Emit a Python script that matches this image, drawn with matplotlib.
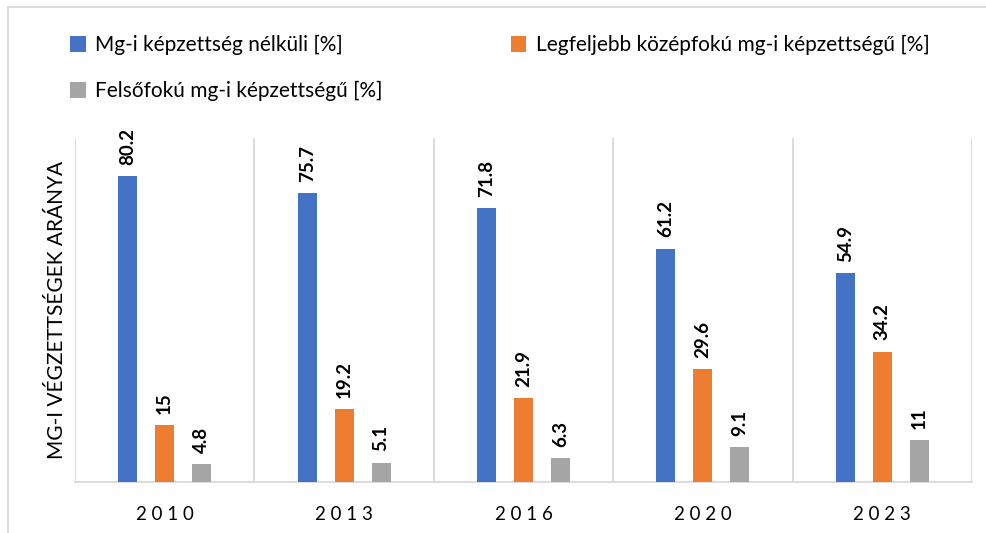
import numpy as np
import matplotlib.pyplot as plt
from matplotlib.lines import Line2D

plt.rcParams['font.family'] = ['Lato', 'DejaVu Sans']

years = ["2010", "2013", "2016", "2020", "2023"]
no_skill = [80.2, 75.7, 71.8, 61.2, 54.9]
mid_skill = [15, 19.2, 21.9, 29.6, 34.2]
high_skill = [4.8, 5.1, 6.3, 9.1, 11]
labels = ["Mg-i képzettség nélküli [%]",
          "Legfeljebb középfokú mg-i képzettségű [%]",
          "Felsőfokú mg-i képzettségű [%]"]
colors = ["#4472C4", "#ED7D31", "#A5A5A5"]

fig = plt.figure(figsize=(9.87, 5.33), dpi=100)
ax = fig.add_axes([75 / 987, 1 - 482 / 533, 897 / 987, 344 / 533])

x = np.arange(len(years))
width = 0.106
offset = 0.206
bars = []
for i, (vals, col) in enumerate(zip([no_skill, mid_skill, high_skill], colors)):
    b = ax.bar(x + (i - 1) * offset, vals, width, color=col, zorder=3)
    bars.append(b)
    for xi, v in zip(x + (i - 1) * offset, vals):
        ax.annotate(f"{v:g}", (xi, v), xytext=(0, 8), textcoords="offset points",
                    rotation=90, ha="center", va="bottom", fontsize=13.5,
                    fontweight="bold", color="#000000")

ax.set_xlim(-0.5, len(years) - 0.5)
ax.set_ylim(0, 90.2)
ax.set_yticks([])
ax.set_xticks(x)
ax.set_xticklabels([" ".join(y) for y in years], fontsize=13.5)
ax.tick_params(axis="x", length=0, pad=17)
# separators between the year groups
for b in np.arange(-0.5, len(years), 1.0):
    ax.axvline(b, color="#D9D9D9", lw=1.3, zorder=1)
for s in ["top", "right", "left"]:
    ax.spines[s].set_visible(False)
ax.spines["bottom"].set_color("#D9D9D9")
ax.spines["bottom"].set_linewidth(1.3)
ax.set_ylabel("MG-I VÉGZETTSÉGEK ARÁNYA", fontsize=15, labelpad=6)

# chart border
fig.add_artist(Line2D([8 / 987, 8 / 987], [0, 1 - 7 / 533], color="#D9D9D9", lw=1.3))
fig.add_artist(Line2D([8 / 987, 1], [1 - 7 / 533, 1 - 7 / 533], color="#D9D9D9", lw=1.3))

handles = [bars[0], bars[2], bars[1]]
fig.legend(handles, [labels[0], labels[2], labels[1]], ncol=2, loc="upper left",
           bbox_to_anchor=(70 / 987, 1 - 35 / 533), frameon=False, fontsize=15,
           borderpad=0, borderaxespad=0,
           handlelength=0.75, handleheight=0.75, handletextpad=0.45,
           columnspacing=6.15, labelspacing=1.25)

fig.savefig("out.png", dpi=100)
